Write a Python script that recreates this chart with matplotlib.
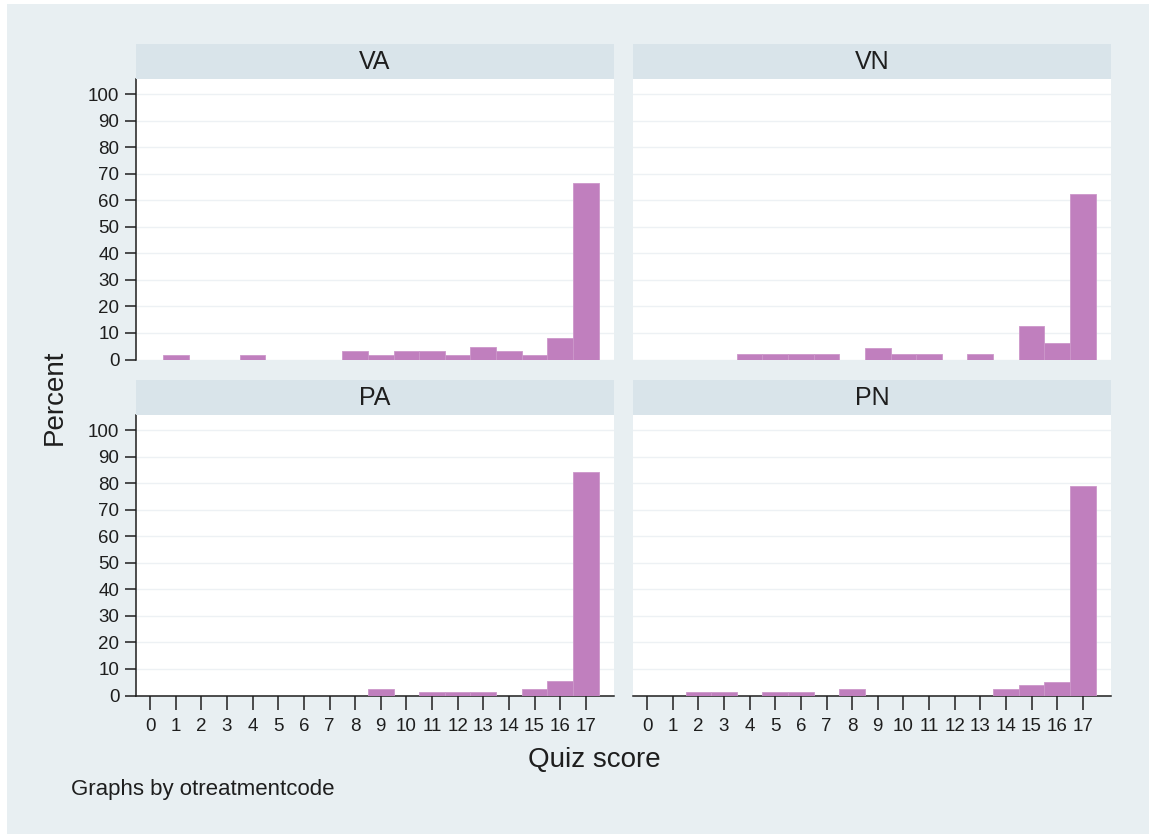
import matplotlib.pyplot as plt
from matplotlib.patches import Rectangle

plt.rcParams['font.family'] = ['Liberation Sans', 'DejaVu Sans']

SCORES = list(range(18))
PANELS = ["VA", "VN", "PA", "PN"]
VA = [0, 1.59, 0, 0, 1.59, 0, 0, 0, 3.17, 1.59, 3.17, 3.17, 1.59, 4.76, 3.17, 1.59, 7.94, 66.67]
VN = [0, 0, 0, 0, 2.08, 2.08, 2.08, 2.08, 0, 4.17, 2.08, 2.08, 0, 2.08, 0, 12.5, 6.25, 62.5]
PA = [0, 0, 0, 0, 0, 0, 0, 0, 0, 2.6, 0, 1.3, 1.3, 1.3, 0, 2.6, 5.3, 84.2]
PN = [0, 0, 1.3, 1.3, 0, 1.3, 1.3, 0, 2.6, 0, 0, 0, 0, 0, 2.6, 3.9, 5.2, 79.2]
VALUES = [VA, VN, PA, PN]

BG = "#e8eff2"
STRIP = "#d9e4ea"
BAR = "#c07fbe"
INK = "#1e1e1e"

W, H = 1149, 834
fig = plt.figure(figsize=(W / 100, H / 100), dpi=100, facecolor="white")
# outer background (small white margin on left / top like the screenshot)
fig.patches.append(Rectangle((7 / W, 0), 1, 1 - 4 / H, transform=fig.transFigure,
                             facecolor=BG, edgecolor="none", zorder=-10))

lefts = [136, 633]
tops = [79, 415]
pw, ph = 478, 280.5
strip_h = 35.5

for i, (name, vals) in enumerate(zip(PANELS, VALUES)):
    col, row = i % 2, i // 2
    x0 = lefts[col]
    y0 = tops[row]
    ax = fig.add_axes([x0 / W, 1 - (y0 + ph) / H, pw / W, ph / H])
    ax.set_facecolor("white")
    ax.bar(SCORES, vals, width=1.0, color=BAR, edgecolor="#cc97ca", linewidth=0.6, zorder=3)
    ax.set_xlim(-0.55, 18.1)
    ax.set_ylim(0, 105.8)
    ax.set_yticks(range(0, 101, 10))
    ax.set_xticks(SCORES)
    ax.grid(axis="y", color="#edf1f4", linewidth=1.0, zorder=0)
    for s in ["top", "right"]:
        ax.spines[s].set_visible(False)
    ax.spines["left"].set_visible(col == 0)
    ax.spines["bottom"].set_visible(row == 1)
    ax.spines["left"].set_color(INK)
    ax.spines["bottom"].set_color(INK)
    ax.spines["left"].set_linewidth(1.1)
    ax.spines["bottom"].set_linewidth(1.1)
    ax.tick_params(axis="y", left=(col == 0), labelleft=(col == 0), length=8, width=1.1,
                   color=INK, labelcolor=INK, labelsize=13.5, pad=4)
    ax.tick_params(axis="x", bottom=(row == 1), labelbottom=(row == 1), length=10, width=1.1,
                   color=INK, labelcolor=INK, labelsize=13.5, pad=6)

    # strip title
    sax = fig.add_axes([x0 / W, 1 - y0 / H, pw / W, strip_h / H])
    sax.set_facecolor(STRIP)
    sax.set_xticks([])
    sax.set_yticks([])
    for s in sax.spines.values():
        s.set_visible(False)
    sax.text(0.5, 0.47, name, ha="center", va="center", fontsize=18, color=INK,
             transform=sax.transAxes)

fig.text(55 / W, 1 - 397 / H, "Percent", rotation=90, ha="center", va="center",
         fontsize=20, color=INK)
fig.text(594 / W, 1 - 760 / H, "Quiz score", ha="center", va="center", fontsize=20, color=INK)
fig.text(71 / W, 1 - 790 / H, "Graphs by otreatmentcode", ha="left", va="center",
         fontsize=16, color=INK)

fig.savefig("out.png", dpi=100, facecolor=fig.get_facecolor())
